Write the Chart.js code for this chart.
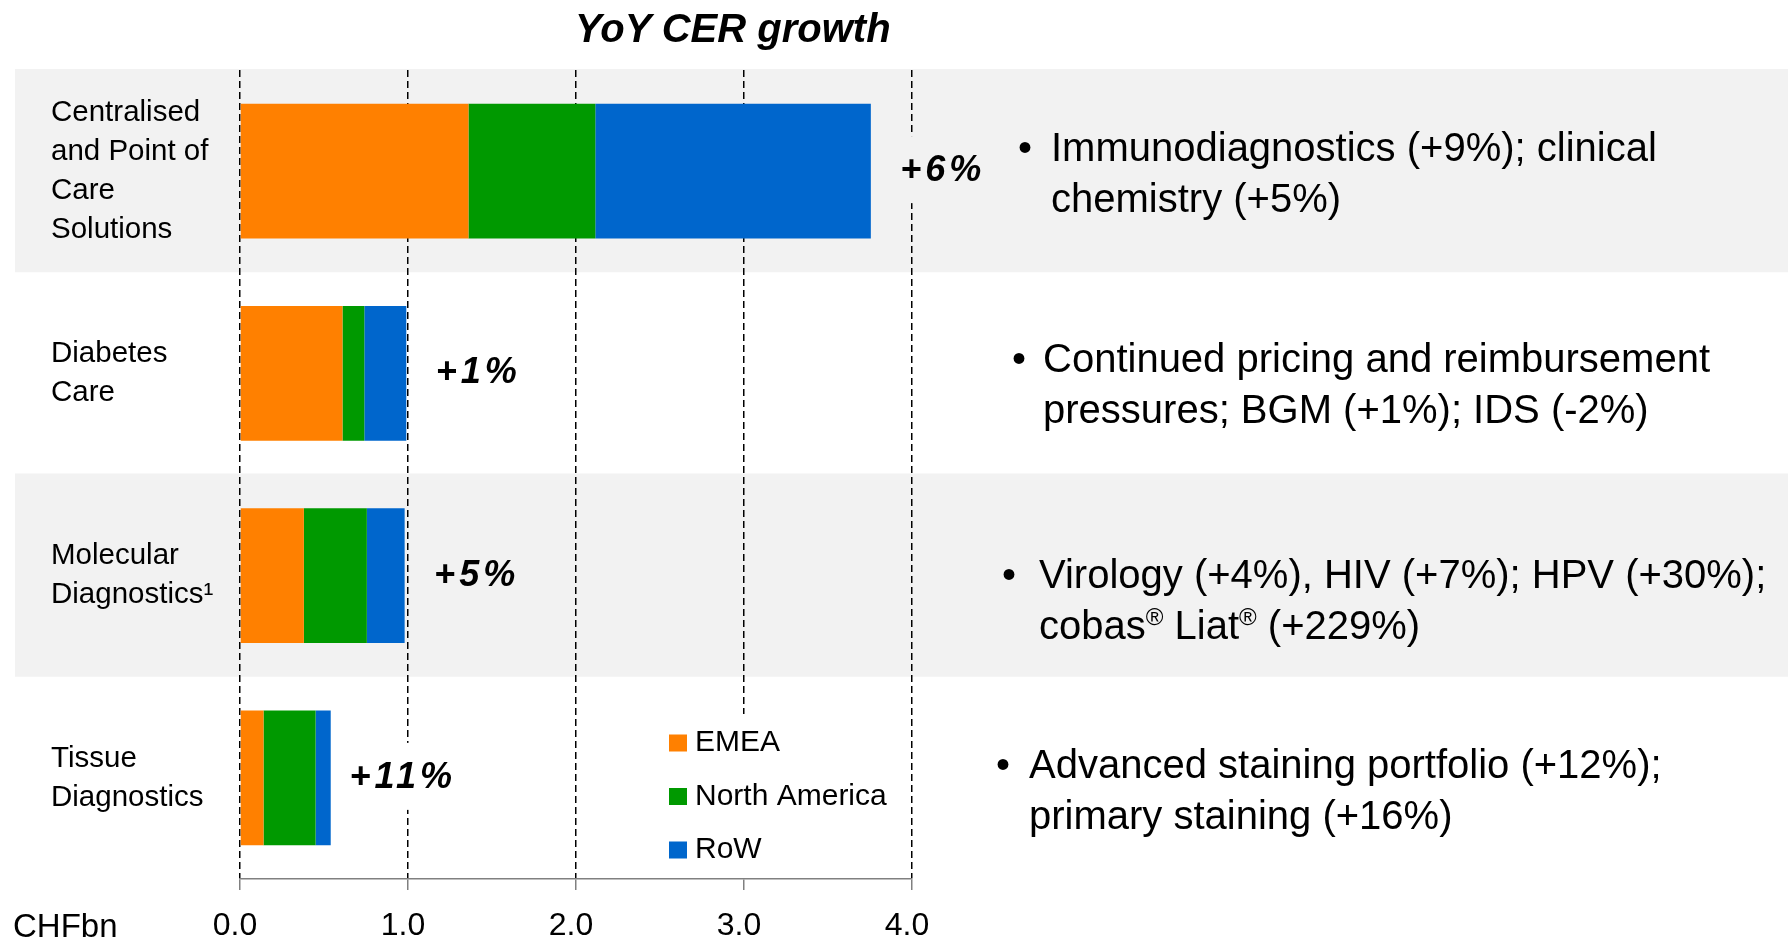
<!DOCTYPE html>
<html>
<head>
<meta charset="utf-8">
<script src="https://cdn.jsdelivr.net/npm/chart.js@4.4.1/dist/chart.umd.min.js"></script>
<style>
  html, body { margin: 0; padding: 0; background: #fff; }
  #wrap { position: relative; width: 1788px; height: 941px; overflow: hidden;
          font-family: "Liberation Sans", Arial, sans-serif; color: #000; }
  #growthChart { position: absolute; left: 0; top: 0; }
  .title { position: absolute; left: 575px; top: 8px; font-size: 40px; line-height: 40px;
           font-weight: bold; font-style: italic; white-space: nowrap; }
  .unit { position: absolute; left: 13px; top: 909px; font-size: 33px; line-height: 33px; white-space: nowrap; }
  .note { position: absolute; font-size: 40px; line-height: 51px; white-space: nowrap; }
  .note .dot { position: absolute; top: 0; }
  .note sup { font-size: 24px; line-height: 0; vertical-align: 14px; }
</style>
</head>
<body>
<div id="wrap">
  <canvas id="growthChart" width="1788" height="941"></canvas>
  <div class="title">YoY CER growth</div>
  <div class="unit">CHFbn</div>

  <div class="note" style="left:1051px; top:122px"><span class="dot" style="left:-33px">•</span>Immunodiagnostics (+9%); clinical<br>chemistry (+5%)</div>
  <div class="note" style="left:1043px; top:333px"><span class="dot" style="left:-31px">•</span>Continued pricing and reimbursement<br>pressures; BGM (+1%); IDS (-2%)</div>
  <div class="note" style="left:1039px; top:549px"><span class="dot" style="left:-37px">•</span>Virology (+4%), HIV (+7%); HPV (+30%);<br>cobas<sup>®</sup> Liat<sup>®</sup> (+229%)</div>
  <div class="note" style="left:1029px; top:739px"><span class="dot" style="left:-33px">•</span>Advanced staining portfolio (+12%);<br>primary staining (+16%)</div>
</div>

<script>
// data (CHF bn)
const categories = [
    ['Centralised', 'and Point of', 'Care', 'Solutions'],
    ['Diabetes', 'Care'],
    ['Molecular', 'Diagnostics¹'],
    ['Tissue', 'Diagnostics']
];
const emea = [1.36, 0.61, 0.38, 0.14];
const northAmerica = [0.755, 0.13, 0.375, 0.31];
const restOfWorld = [1.64, 0.25, 0.225, 0.09];
const growth = ['+6%', '+1%', '+5%', '+11%'];
const tickLabels = ['0.0', '1.0', '2.0', '3.0', '4.0'];

const BAND = '#f2f2f2';

Chart.defaults.font.family = '"Liberation Sans", Arial, sans-serif';
Chart.defaults.color = '#000';

// grey stripes behind every other row, running across the whole slide
const rowBands = {
    id: 'rowBands',
    beforeDraw(chart) {
        const {ctx, chartArea, scales: {y}} = chart;
        const half = (chartArea.bottom - chartArea.top) / categories.length / 2;
        ctx.save();
        ctx.fillStyle = BAND;
        categories.forEach((c, i) => {
            if (i % 2) return;
            const yc = y.getPixelForValue(i);
            ctx.fillRect(15, yc - half - 1, chart.width - 15, half * 2 + 1);
        });
        ctx.restore();
    }
};

// growth labels next to the bars + the legend box
const extras = {
    id: 'extras',
    afterDatasetsDraw(chart) {
        const {ctx, chartArea, scales: {x, y}} = chart;
        ctx.save();

        ctx.font = 'italic bold 36px "Liberation Sans"';
        ctx.letterSpacing = '4px';
        ctx.textAlign = 'center';
        ctx.textBaseline = 'middle';
        growth.forEach((g, i) => {
            const total = emea[i] + northAmerica[i] + restOfWorld[i];
            const cx = x.getPixelForValue(total) + 72;
            const cy = y.getPixelForValue(i);
            const w = ctx.measureText(g).width + 12;
            ctx.fillStyle = i % 2 ? '#ffffff' : BAND;
            ctx.fillRect(cx - w / 2, cy - 35, w, 67);
            ctx.fillStyle = '#000';
            ctx.fillText(g, cx, cy);
        });

        ctx.letterSpacing = '0px';
        ctx.fillStyle = '#ffffff';
        ctx.fillRect(662, 714, 240, chartArea.bottom - 714 - 1);
        ctx.font = '30px "Liberation Sans"';
        ctx.textAlign = 'left';
        chart.data.datasets.forEach((ds, i) => {
            const yc = 743 + i * 53.5;
            ctx.fillStyle = ds.backgroundColor;
            ctx.fillRect(669, yc - 8.5, 18, 17);
            ctx.fillStyle = '#000';
            ctx.fillText(ds.label, 695, yc);
        });
        ctx.restore();
    }
};

const ctx = document.getElementById('growthChart').getContext('2d');

const growthChart = new Chart(ctx, {
    type: 'bar',
    data: {
        labels: categories,
        datasets: [
            { label: 'EMEA', data: emea, backgroundColor: '#ff8000' },
            { label: 'North America', data: northAmerica, backgroundColor: '#009900' },
            { label: 'RoW', data: restOfWorld, backgroundColor: '#0066cc' }
        ]
    },
    options: {
        indexAxis: 'y',
        responsive: false,
        animation: false,
        events: [],
        layout: { padding: { left: 51, right: 876, top: 70, bottom: 0 } },
        datasets: {
            bar: { categoryPercentage: 1, barPercentage: 0.667, borderWidth: 0 }
        },
        plugins: {
            legend: { display: false },
            tooltip: { enabled: false }
        },
        scales: {
            x: {
                stacked: true,
                min: 0,
                max: 4,
                ticks: {
                    stepSize: 1,
                    padding: 17,
                    labelOffset: -5,
                    font: { size: 32 },
                    callback: (v, i) => tickLabels[i]
                },
                grid: {
                    color: '#000',
                    lineWidth: 1.5,
                    tickColor: '#808080',
                    tickLength: 11,
                    tickWidth: 1.5,
                    tickBorderDash: []
                },
                border: { display: true, color: '#808080', width: 1.5, dash: [7, 4] },
                afterFit: (scale) => {
                    scale.height = 62;
                    scale.paddingLeft = 0;
                    scale.paddingRight = 0;
                }
            },
            y: {
                stacked: true,
                ticks: {
                    crossAlign: 'far',
                    font: { size: 29.5, lineHeight: '39px' }
                },
                grid: { display: false },
                border: { display: false },
                afterFit: (scale) => {
                    scale.width = 189;
                    scale.paddingTop = 0;
                    scale.paddingBottom = 0;
                }
            }
        }
    },
    plugins: [rowBands, extras]
});
</script>
</body>
</html>
